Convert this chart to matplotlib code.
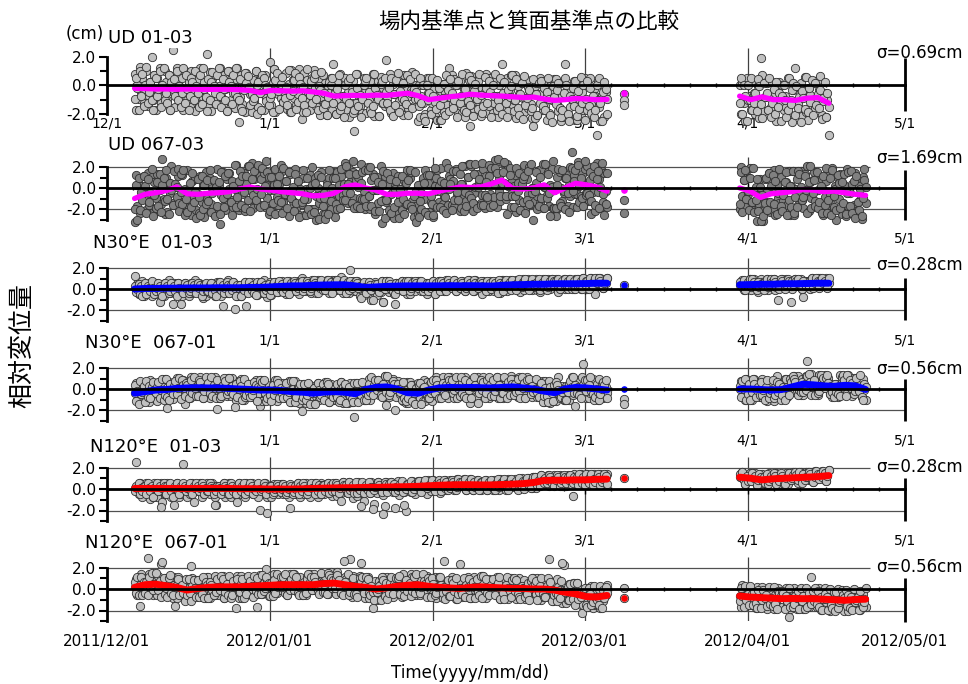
import matplotlib
matplotlib.use("Agg")
import matplotlib.pyplot as plt
import matplotlib.dates as mdates
import numpy as np
from datetime import datetime

# scatter residuals are coded one letter per sample: 'N' = 0, each letter step = 0.25 cm
# two sample series per station (listed as two strings), both spread over the segment
LEVELS = "ABCDEFGHIJKLMNOPQRSTUVWXYZ"

seg_a = (datetime(2011, 12, 6, 6), datetime(2012, 3, 5, 6))
seg_b_short = (datetime(2012, 3, 30, 12), datetime(2012, 4, 16, 12))
seg_b_long = (datetime(2012, 3, 30, 12), datetime(2012, 4, 23, 12))
iso_day = datetime(2012, 3, 8, 12)

months = [datetime(2011, 12, 1), datetime(2012, 1, 1), datetime(2012, 2, 1),
          datetime(2012, 3, 1), datetime(2012, 4, 1), datetime(2012, 5, 1)]

titles = ["UD 01-03", "UD 067-03", "N30°E  01-03", "N30°E  067-01",
          "N120°E  01-03", "N120°E  067-01"]
sigmas = ["σ=0.69cm", "σ=1.69cm", "σ=0.28cm", "σ=0.56cm", "σ=0.28cm", "σ=0.56cm"]

# ---- UD 01-03 ----
ud0103_trend_a = [-0.20, -0.22, -0.25, -0.25, -0.27, -0.25, -0.27, -0.28, -0.27, -0.27,
                  -0.30, -0.35, -0.50, -0.35, -0.38, -0.40, -0.38, -0.45, -0.55, -0.75,
                  -0.72, -0.70, -0.72, -0.68, -0.70, -0.62, -0.55, -0.72, -1.00, -0.90,
                  -0.80, -0.72, -0.62, -0.68, -0.72, -0.75, -0.80, -0.85, -0.82, -0.95,
                  -1.05, -1.00, -0.92, -0.95, -1.00, -0.98]
ud0103_trend_b = [-0.75, -1.0, -0.8, -1.0, -1.0, -1.05, -0.9, -0.85, -1.25]
ud0103_scatter_a = [
    "RHOKTMQJNSILPWKRHQMTJOLSPKRHNYMITLOJQHSNKPISMRHOQJTNLPKXISHQORMK"
    "OTLJRNHPSKPMIQTELRJOHSNQMHQKTPJRRNISLOKVJPTHQMRLNKOSIPHTQLRJMTOF"
    "HSKQNIPRTOJLRHMSKQHPOSJWPIRMTKNLSJOHQLRDLTNKPISOIQMRJTHNORHSLPKX"
    "MKTIQNRJRLJPHSOMJSOTKMQGQHNLRJTPTKMQISHOHPRJOLNVNTLSKQIRKIPHTORE"
    "SQJMNRLHPLOTIKSQILRNHQMWROKSJPTLMTHQOIRNJNSKPLHFQRIOTMKSLHPJRNQT"
    "TMKSHOIXOJQLNRSHHSNIPKTMKRTMJQODSLHORIPN",
    "KQNHSLRIOTJMPKHRQLNSIOTKMJRHPNQLSKOIMTJRNHLQPKSOMIRJTNLHQKPSOMJR"
    "TLIQNKHSPOJRMTLKQIHNSPROJMKLTHQNISRPKOJLMHTQSNIPRKLOJTMHNQSIKRPL"
    "OJHTNMQKRSLIPOTJNKHMRQSLOIPTJKNHQMRLSOIJTPKNHMQRSLOJIKTPNMHQRLSO"
    "LPJSHNKRTIOMQLKSHRNJPTOMKSLQIHRNPJTOMKSQLHNRITPJSOKMQHRLNTJPILSK"
    "RHOQMJTNIKSPLROHQNTJMKSIORLHPNQTJMSKIORHTLNQPJKSHOIRMSLQKPTNJHRO"
    "MQSLIKPTRJHONQLSIPKTMRHNSLQJOIKRNTMHPSQJ",
]
ud0103_scatter_b = [
    "QIRLHTNOKSPJMQHYTJNRKOLSIPHQSMRKOLTJNHQWRMKSIPTJHQOLRKNSPTIMQJOE",
    "LSIQOHRNTKMPJSQLHRNOKTIMQJSLPHORNIKTMQSJRLOHPNKTJQMSIRLOKPHNTJQM",
]
ud0103_iso_trend = -0.55
ud0103_iso = [-0.6, -1.0, -1.35]

# ---- UD 067-03 ----
ud06703_trend_a = [-1.0, -0.6, -0.45, -0.25, 0.1, -0.55, -0.6, -0.5, -0.45, -0.35,
                   -0.1, 0.1, -0.1, -0.2, -0.35, -0.45, -0.55, -0.75, -0.7, -0.5,
                   0.1, 0.3, 0.0, -0.2, -0.6, -0.6, -0.5, -0.5, -0.55, -0.3,
                   -0.1, 0.1, 0.05, 0.1, 0.4, 0.75, -0.05, -0.1, 0.0, 0.3,
                   -0.45, 0.0, 0.45, 0.3, 0.1, -0.3]
ud06703_trend_b = [0.0, -0.3, -0.9, -0.55, -0.45, -0.35, -0.15, -0.2, -0.35, -0.3,
                   -0.45, -0.6, -0.7]
ud06703_scatter_a = [
    "EWKSGQNUPHVJMTFRLUGOIZKESFQMVHNTJRELUKPGWIOFSMTHNGUKQEVLHTJPFROW"
    "QBMVIGSKUKRHNWJFGPLTEOVIMWFQJUHSRHTGPKENFSNVLIQXVJGRMEUOKOWHSFPJ"
    "TFPLGVIYIUEQKNWGOGSJTHLVENVMFRKUWLHUOGSIPEQIWJMFHVKFRTNESIOWCLUK"
    "LRFNVEQHUGMHPSJWJTVKEIOFQFHSLWGRGKUEPNVJNWILFXHSRHQGUKMEFOJVIRWL"
    "VELNSGPHKUFRHQJTTIWEMOFUHMGTKVLQOSEPJFUIWFRLVHNBIPKUGTEMMJSFQWHO"
    "ETHVNILRSGOKZEQJJVMIRFTKUHPCLSEWLQFTJUNH",
    "JSFVHOLUQGTKNWEMHRIUFPSJVKEQMGTONUHSJWFLGPRIVKOETMFUHQJSKWGNSEPI"
    "RFVLHTMUOJEPWGKQUHSMFRIVEQKTJNWGLVHOYUSFSIPEQKTJFWMRHVNLPGUJSEOK"
    "WLFTIQGRHSNVEMUJMERGWKPTTJHQFUIOIVOSKGWERFMEPTJUGUKVHNSFNQFJRWEL"
    "VHTGOIPSKEPULFRJSWIHMVCQEKNTRGUFUMJFWSHPHRGQKEVNPFUJTLISOVELGRKW"
    "JHSWFNQGWGKPIUETFNTRVJHMQUHAOSGKGKVMTFPRSEJUHWLNMTFGQIVEVIRKEPZH"
    "HQWJGUMFRLEVTKOSEUGPIFWJKJSHRVGQTFNWMEIU",
]
ud06703_scatter_b = [
    "FVKQHTMSWGNJRELUIPEUKOVGSHWFQLJTNKGRIVEPVEOSHMUJGTLWFQKRUJHNTGSE"
    "LRFVMIWHPCSKUFOQEWINGRJVTHQLEUXK",
    "HTEQVKNGSJWFMUIREOGLTHVKQUJSFNWIGMRVEKPHVFLHUTOJKSNEQWGMRHUGJPFT"
    "IWFKSEVLOGTQHRJUFNVIWGSEUKHPFMTQ",
]
ud06703_iso_trend = -0.15
ud06703_iso = [-1.1, -2.4]

# ---- N30E 01-03 ----
n30_0103_trend_a = [0.0, 0.05, 0.05, 0.08, 0.08, 0.1, 0.1, 0.1, 0.12, 0.12,
                    0.12, 0.15, 0.15, 0.2, 0.25, 0.3, 0.3, 0.35, 0.38, 0.4,
                    0.4, 0.3, 0.15, 0.2, 0.25, 0.28, 0.3, 0.3, 0.3, 0.3,
                    0.32, 0.3, 0.32, 0.3, 0.28, 0.35, 0.4, 0.42, 0.45, 0.45,
                    0.5, 0.5, 0.5, 0.52, 0.55, 0.55]
n30_0103_trend_b = [0.4, 0.42, 0.45, 0.45, 0.5, 0.5, 0.52, 0.55, 0.55]
n30_0103_scatter_a = [
    "SNPLOMQKMOLPNKOMPLNIMOKPNMQLOHPLLPMNKOPMOKNPLMQNMPLOJNKONLPMOKNP"
    "PNKGMOLQLOMPFNKONKOLPMONMPNLOKPMOLQMNJLPKNMPOLNOPMOKNPLMLONMPKOQ"
    "NPLOMNKPOMKPNLOMMNPLKOPNPLOMNQKONOLKTMPLLPNJOMKOOMPNIKLPKNOLPHMN"
    "PLMONKGOMONPLMOKNKPOMLNPOPLNMOKNLNOPKNMPPMNLOPNONOMPLNOMMPOLNMPN"
    "ONLPMONLKPNOMLPONLOPNMKPPNMLOPNMOMPNLKOPLONPMOLNNPLOKNPMMOPNLPON"
    "PNKOMNPLOLPMNOLPNPOLMPNOLONPOMJPOMPNLONP",
    "OMNPLOKNPLONMQNLMNPOLKOPNOLMPNOMKPNHMLPNOLMNPONLPNOKMOPMMOPLNMKO"
    "NPMOLNPOLOMPNKONOKNMPGLPNMOLKPNOPNLOMNOKMOPNLOPMOLNMPKNONPOLMONP"
    "LMNPOLMOPONKNMPLMLOPNOKNONPMLNOPNKOLPMNOPOMNJOPNLNPOMINOOMLNPHMP"
    "NPOMLNKOMONPLOPNPLMONPOMNOPLMNOLOMNPKONPLPOMNLPONMOPLONMPONLMPNO"
    "MLPONMOPONMLPNOMPNOMKPONLOPNMOLPNMLOPNMOOPNMLOPNMNOPLNOMPLMNOPNO"
    "ONPLMONPNOMPLNOLPMNOLPNOOLPNMOPNNPOMLNOP",
]
n30_0103_scatter_b = [
    "NOPLMONPLNPOMKOPOMNPLONMPLOHNMPONPMOGLNPMONPLIOMONLPMNOPLPONMPON",
    "ONMPLNOPMPONLOMNNLOPMNPOPOMNLPONLNPOMONPOPNMLONMNMOPLNPOMOPNONLP",
]
n30_0103_iso_trend = 0.4
n30_0103_iso = [0.4]

# ---- N30E 067-01 ----
n30_06701_trend_a = [-0.4, -0.25, -0.1, -0.05, 0.05, 0.1, 0.12, 0.1, 0.1, 0.05,
                     0.0, -0.05, -0.1, -0.1, -0.15, -0.25, -0.3, -0.4, -0.3, -0.25,
                     -0.3, -0.45, -0.05, 0.15, 0.2, 0.0, -0.35, -0.4, -0.1, 0.1,
                     0.15, 0.12, 0.15, 0.12, 0.1, 0.15, 0.2, 0.1, 0.0, -0.2,
                     -0.35, 0.0, 0.15, 0.1, 0.0, -0.1]
n30_06701_trend_b = [0.0, 0.0, -0.05, -0.1, -0.05, 0.2, 0.45, 0.4, 0.3, 0.25,
                     0.35, 0.3, -0.05]
n30_06701_scatter_a = [
    "NRKPJOMQLQNJRMPKPJOLQNKRMGQKOJPNRLNPKQHOKPJRMNOLOMRLJPQKQJNOKRLF"
    "JPLQNMKRNKRMPJOQLROJQKNPPMKNRLJHRJQOLPMKKNPRJMQOMQLKOROJOKRNPJLG"
    "QLJPMQKNJOMRKNPLNRPLJQOKLKQNORJMPNJMRKQEROLQKPNJKMRJOLQPOQKPNJRG"
    "MJPLRONKQNLOKMJRJRMQPKOLNLOKRJQMPQJNLRKOLKRPMOJQRMNJQLPKKPLRONJH"
    "OJQMKRNPMRKOPJLQQLNRJMOKJOPKLQRNNQMJRKOLLJROPNKQPMKQNLRJRKOLJQMP"
    "KQTNMOJLOLJPRKQGMPQKNWLJQJLORMKPJRNPKLOM",
    "QKOJRMNPJRLPKOQNMOQKNRJLRKJPMLOQLNRJQOKPOJMQLRNKKQPNJMROPLRKONJQ"
    "NJKORQLMRMOLGPKNQOJRKLPMKLNQPJOROQRMJKNLJPLNRQKOMKOQLNJRRNJLOPQK"
    "LQKMRJONPJNROLMQKORQJMNLNMLJKRPOQJOPMLKRORKNLQJMJLPMRKOQMQNKJORL"
    "RKLOQPFNPNMJRLKOLOQKNJPRQRJPOMLKKMNRLQOJNJPLKORQOQLMRJNKRLKQJNMP"
    "JNRONHLQMPJLQROKQKMRNOJLLRNJPKQOKOLQMJRNPJQNRLOMNRMKOQJLOLJRPNKQ"
    "RQOLKMNJJMPQNRLOLNKJROQMQORMLJKNMJLNQPRK",
]
n30_06701_scatter_b = [
    "NQKPJROLPJMRLOQKKROLNJPQQLJOSKMNMPRKJQOLORLNQKJPJNQWPLRKLKOJRNPQ"
    "RMPQKOJLNOJLRPKMPKRNMJQOLQMOKRNJ",
    "OKQNRJLPJMRPKNOLQLNJORKMNRKLQMPJLOJRNKQPRQPMJLKOKNLQROJMPJMKLRNQ"
    "MQROKNLJOLKNJQRPJRNPMOKLQMLRKJPO",
]
n30_06701_iso_trend = 0.0
n30_06701_iso = [-0.95, -1.4]

# ---- N120E 01-03 ----
n120_0103_trend_a = [0.05, 0.05, 0.05, 0.05, 0.05, 0.05, 0.05, 0.05, 0.05, 0.05,
                     0.03, 0.03, 0.02, 0.0, 0.0, 0.0, 0.02, 0.05, 0.08, 0.1,
                     0.12, 0.12, 0.15, 0.15, 0.18, 0.2, 0.22, 0.25, 0.3, 0.35,
                     0.38, 0.4, 0.4, 0.38, 0.38, 0.42, 0.45, 0.5, 0.6, 0.8,
                     0.82, 0.82, 0.85, 0.85, 0.9, 0.92]
n120_0103_trend_b = [1.1, 1.0, 0.85, 0.95, 1.0, 1.05, 1.1, 1.15, 1.25]
n120_0103_scatter_a = [
    "NXOLPMKOMPLNJOKPOKNMPIOLLPMOKNHMPNKOLWMNKOLNPIMONMPKOLNPOLNPMKHO"
    "MNOLPKNMPKMOLNIPLONMKPONNPLOMNKFOMNPLKOMKNPOMLNPPLOMNKGOMONLPOKN"
    "NLPMOKNMOPNKMLPOLNOPMNKOPMKNOLPNNOLPMNJOMKPONLIMONMLPOHNLPNOMKGP"
    "NMOPLNFOPKNMOLENMOLPNKOMNPMOLNKPOLNPMONLKNOMPLNOPMNLOPMNNOPMLNOP"
    "MLONPMOLONMPLONMLPONMLPONMLOPNMOOPNMLOPNMNOPNMLPPLMNOPNMNOPLMNOP"
    "OMNPOLNOLPOMNHPNNOMPLNOMPOLNMPONMNPOLNOP",
    "MONPLNMOOLPNMOKNNPMOGNPOLONPMKNOPMLONPOMNOPMLONPOMNPOLNMMPONLHMO"
    "ONLMPONLLPOMNLOPNMOPLNMOPOLNMOPNMNPOLENOOLMNPONMNPOLMNPOLMONPLOM"
    "PONLMOPNNLPMONLOOMNPLOMPMPOLNIPONOLPMNOLPLNMGPLNOMPLNFMNNPOMLDPO"
    "LONPMOLNMNOPLGMOONPLMONPPMLNOPMNNOPMLNOPOLNPMOLNMPONLMPONOMPLNOM"
    "PLOMNPLOONPMLONPMNLOPMNOOPNMLOPNNMOLPNMOLOPNMLOPPNMOLPNMOMNPOMNL"
    "NPOLMNPOMONPLMONOLPNMOLPNMOPLNMOPOLMNPOL",
]
n120_0103_scatter_b = [
    "NOPMLNOPOMNPLONMPNOLMPNOMOPNLOMNNPLOMNPOOLNPMONPPMONLPOMNOPMNLOP",
    "ONPMLOMNMPNOLNPONOMPLMONPOLNMPOLLNOPMNOPOMPNLOMNNPOMLNPOMONPOLNP",
]
n120_0103_iso_trend = 1.0
n120_0103_iso = [1.0]

# ---- N120E 067-01 ----
n120_06701_trend_a = [0.15, 0.4, 0.45, 0.3, 0.15, -0.1, 0.05, 0.15, 0.2, 0.2,
                      0.2, 0.25, 0.3, 0.35, 0.4, 0.4, 0.4, 0.4, 0.5, 0.55,
                      0.4, 0.25, 0.15, 0.0, 0.1, 0.25, 0.35, 0.4, 0.25, 0.15,
                      0.1, 0.05, 0.15, 0.2, 0.15, 0.1, 0.05, 0.05, 0.0, 0.0,
                      -0.1, -0.3, -0.45, -0.7, -0.75, -0.6]
n120_06701_trend_b = [-0.65, -0.75, -0.8, -0.85, -0.9, -0.88, -0.9, -0.9, -0.95, -1.0,
                      -1.05, -0.98, -0.95]
n120_06701_scatter_a = [
    "NQKOFRMPLPXRKNJQOJQMVKPLQMKPNJRGJRNLOQKMPKOWRMNQMOQKLPJRRJLPNKOM"
    "KQMRJOLPOLPKQNRJNRJOMQKLLMQNKFPRQKOLTPJNJPRMKOLQPNKQJLROMRLOPKQJ"
    "KOJQMRNLRLPNKMOQOQMJLRPKNJROPKLMQPLKXJROLKNRWOMJPRJMOGKQJMQPKROL"
    "RNKLJPQMMQOJRLNKKLRQMNJPOJPLKQRNQOMKRJLPNPJXOMKLLRQNJKPWPKLOQRMJ"
    "JNRMPLOKROKJLQNPMLPRKNJQKQNOJPRLOPJLRMKNQJMKONPRNLRPQJOKPMKYOLJQ"
    "LRONKJXMJKQLPROMRPLJMKNQMONRJPKLKQJMLONR",
    "PLRKNQJOKOJQMRLNRNLOJWQKMJQRLKONOQKNPMJRLRMJOQNKQKNLRJPOJPOMKRLQ"
    "NMRQJLOKRJKPNFQLLOQJMKRNPNJRLQKMKRLMQNOJOJPKRMNQMQRNJOLPRLOQKJMN"
    "JNKPROQLQOMLJNRKNKJRQPLOLPQOMKJWOMRJLNQKKJNQPRLORQLKOMJNMNOJRQKP"
    "JLPRKONQQRKNMJPLNOJLQKRMLKMRPOJQPJQOKLNRROLNJMQKKQPMRJLNMLRKONQJ"
    "OPNJQLKRJRMQLKNOQNKOPRJMLJORNMKQRMQLKJONNKLPJQROPQJMORLKKORNQJML"
    "MJLKRYONOPKQNLRJRLNMHOQKJQOKLRNMNKRJPMQO",
]
n120_06701_scatter_b = [
    "NJRMQKOLPKLOJRNQMRNKPJLOQLJONRKPKOPRLGJNORMJQNPKJNQLKOVMLPKNRJOQ"
    "RMOQJLKNNKRPOMQJPQJLNKROMOLJQPNK",
    "LQNJRMOKROKPLJQNJMQNOKRLNKRLJQPOQPJOMRKNKLONQJRMOJRKPNLQMRLQKOJN"
    "PNOJRLKQJQKMNRPORLPKOJNMNOJQLKMR",
]
n120_06701_iso_trend = -0.8
n120_06701_iso = [0.1, -0.8]

panels = [
    (ud0103_trend_a, ud0103_trend_b, ud0103_scatter_a, ud0103_scatter_b, seg_b_short,
     ud0103_iso_trend, ud0103_iso),
    (ud06703_trend_a, ud06703_trend_b, ud06703_scatter_a, ud06703_scatter_b, seg_b_long,
     ud06703_iso_trend, ud06703_iso),
    (n30_0103_trend_a, n30_0103_trend_b, n30_0103_scatter_a, n30_0103_scatter_b, seg_b_short,
     n30_0103_iso_trend, n30_0103_iso),
    (n30_06701_trend_a, n30_06701_trend_b, n30_06701_scatter_a, n30_06701_scatter_b, seg_b_long,
     n30_06701_iso_trend, n30_06701_iso),
    (n120_0103_trend_a, n120_0103_trend_b, n120_0103_scatter_a, n120_0103_scatter_b, seg_b_short,
     n120_0103_iso_trend, n120_0103_iso),
    (n120_06701_trend_a, n120_06701_trend_b, n120_06701_scatter_a, n120_06701_scatter_b, seg_b_long,
     n120_06701_iso_trend, n120_06701_iso),
]

line_colors = ["#ff00ff", "#ff00ff", "#0000ff", "#0000ff", "#ff0000", "#ff0000"]
face_colors = ["#c0c0c0", "#808080", "#c0c0c0", "#c0c0c0", "#c0c0c0", "#c0c0c0"]
line_widths = [3.8, 3.8, 5.0, 5.0, 5.0, 5.0]

# layout in pixels: zero line y, px per cm, ylim
W, H = 968, 684
X0, X1 = 107, 905
layout = [(88, 15.25, -1.7, 2.6), (188, 10.5, -3, 3), (289, 10.5, -3, 3),
          (389, 10.5, -3, 3), (489, 10.75, -3, 3), (589, 10.75, -3, 3)]
title_pos = [(108, 38), (108, 145), (93, 243), (85, 343), (90, 447), (85, 543)]
sigma_y = [53, 158, 265, 369, 467, 567]
right_line = [(-1.8, 1.9), (-3.0, 1.7), (-2.95, 1.05), (-3.0, 1.0), (-3.0, 1.0), (-3.05, 1.0)]

CJK = ["Noto Sans CJK JP", "DejaVu Sans"]
plt.rcParams["font.family"] = ["DejaVu Sans"]


def decode(s):
    return np.array([(LEVELS.index(c) - 13) * 0.25 for c in s])


def draw_segment(ax, seg, trend, code_list, face, lc, lw):
    t0, t1 = mdates.date2num(seg[0]), mdates.date2num(seg[1])
    for codes in code_list:
        res = decode(codes)
        t_pts = np.linspace(t0, t1, len(res))
        k = np.rint((t_pts - t0) / (t1 - t0) * (len(trend) - 1)).astype(int)
        y_pts = np.asarray(trend)[k] + res
        ax.scatter(t_pts, y_pts, s=36, c=face, edgecolors="#303030", linewidths=0.6,
                   zorder=2, clip_on=False)
    ax.plot(np.linspace(t0, t1, len(trend)), trend, color=lc, lw=lw,
            solid_capstyle="round", zorder=3, clip_on=False)


fig = plt.figure(figsize=(W / 100, H / 100), dpi=100)
mnum = mdates.date2num(months)
upper_end = mdates.date2num(datetime(2012, 4, 24, 10))

for i, (tr_a, tr_b, sc_a, sc_b, seg_b, iso_t, iso_p) in enumerate(panels):
    zero, pxu, ylo, yhi = layout[i]
    top = zero - yhi * pxu
    bot = zero - ylo * pxu
    ax = fig.add_axes([X0 / W, 1 - bot / H, (X1 - X0) / W, (bot - top) / H])
    ax.set_facecolor("none")
    ax.set_xlim(mnum[0], mnum[-1])
    ax.set_ylim(ylo, yhi)

    # reference lines
    ax.vlines(mnum[1:-1], ylo, yhi, color="#404040", lw=0.9, zorder=1)
    lo, hi = right_line[i]
    ax.vlines(mnum[-1], lo, hi, color="black", lw=2, zorder=4, clip_on=False)
    if i > 0:
        ax.hlines(2, mnum[0], upper_end, color="#505050", lw=0.9, zorder=1)
        ax.hlines(-2, mnum[0], mnum[-1], color="#505050", lw=0.9, zorder=1)

    draw_segment(ax, seg_a, tr_a, sc_a, face_colors[i], line_colors[i], line_widths[i])
    draw_segment(ax, seg_b, tr_b, sc_b, face_colors[i], line_colors[i], line_widths[i])
    iso_x = mdates.date2num(iso_day)
    ax.scatter([iso_x] * len(iso_p), iso_p, s=36, c=face_colors[i], edgecolors="#303030",
               linewidths=0.6, zorder=2, clip_on=False)
    ax.scatter([iso_x], [iso_t], s=14, c=line_colors[i], zorder=3, clip_on=False)

    # spines: left axis and zero line (top spine moved to 0)
    for side in ["right", "bottom"]:
        ax.spines[side].set_visible(False)
    ax.spines["left"].set_linewidth(2)
    ax.spines["left"].set_bounds(-2 if i == 0 else -3, 2)
    ax.spines["top"].set_position(("data", 0))
    ax.spines["top"].set_linewidth(2)
    ax.spines["top"].set_zorder(4)

    ax.set_yticks([-2, 0, 2])
    ax.set_yticklabels(["-2.0", "0.0", "2.0"], fontsize=11)
    ax.set_yticks([-1, 1] if i == 0 else [-3, -1, 1], minor=True)
    ax.tick_params(axis="y", which="both", direction="out", width=1.5, pad=2)
    ax.tick_params(axis="y", which="major", length=6)
    ax.tick_params(axis="y", which="minor", length=5)

    ax.set_xticks(mnum)
    if i == len(panels) - 1:
        ax.set_xticklabels([d.strftime("%Y/%m/%d") for d in months], fontsize=11)
    else:
        # the 12/1 label of the middle panels sits under the next panel's title
        labels = [f"{d.month}/{d.day}" for d in months]
        if i > 0:
            labels[0] = ""
        ax.set_xticklabels(labels, fontsize=10)
    ax.xaxis.set_minor_locator(mdates.DayLocator(bymonthday=[6, 11, 16, 21, 26]))
    ax.tick_params(axis="x", which="both", top=True, bottom=False, labeltop=False,
                   labelbottom=True, direction="inout", width=1)
    ax.tick_params(axis="x", which="major", length=7, pad=-1.5 if i == 0 else 5.5)
    ax.tick_params(axis="x", which="minor", length=3)

    tx, ty = title_pos[i]
    fig.text(tx / W, 1 - ty / H, titles[i], fontsize=13, ha="left", va="center",
             bbox=dict(facecolor="white", edgecolor="none", pad=0.5))
    fig.text(963 / W, 1 - sigma_y[i] / H, sigmas[i], fontsize=12, ha="right", va="center")

fig.text(85 / W, 1 - 34 / H, "(cm)", fontsize=12, ha="center", va="center")
fig.text(529 / W, 1 - 22 / H, "場内基準点と箕面基準点の比較", fontsize=15.5,
         ha="center", va="center", family=CJK)
fig.text(22 / W, 1 - 345 / H, "相対変位量", fontsize=18, rotation=90,
         ha="center", va="center", family=CJK)
fig.text(470 / W, 1 - 673 / H, "Time(yyyy/mm/dd)", fontsize=12, ha="center", va="center")

fig.savefig("out.png", dpi=100)
